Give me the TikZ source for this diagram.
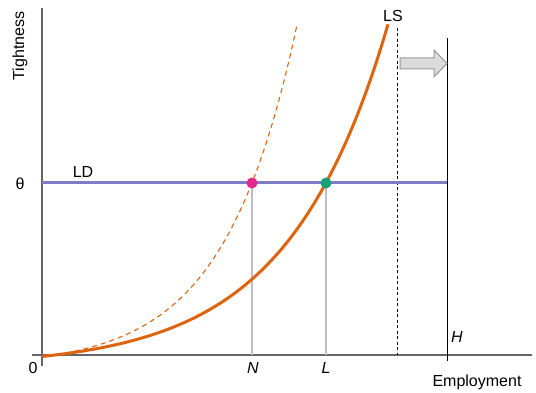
\documentclass[tikz,border=0pt]{standalone}
\usepackage{fontspec}
\setmainfont{Liberation Sans}
\begin{document}
\begin{tikzpicture}[x=1pt,y=-1pt,
  lbl/.style={inner sep=0pt,font=\fontsize{16}{19}\selectfont},
  axisline/.style={draw=black!60,line width=2pt},
  guide/.style={draw=black!25,line width=1.4pt},
  lscurve/.style={draw=lsorange,line width=3pt},
  dot/.style={circle,inner sep=0pt,minimum size=11pt}]
\definecolor{lsorange}{RGB}{222,100,15}
\definecolor{ldblue}{RGB}{128,124,196}
\definecolor{dotpink}{RGB}{228,40,140}
\definecolor{dotgreen}{RGB}{25,160,120}
\useasboundingbox (0,0) rectangle (536,393);
% axes
\coordinate (ytop) at (42,8);
\coordinate (ybot) at (42,366);
\coordinate (xl) at (32,355);
\coordinate (xr) at (532,355);
\draw[axisline] (ytop) -- (ybot);
\draw[axisline] (xl) -- (xr);
% guides
\coordinate (Nax) at (252,355);
\coordinate (Lax) at (326,355);
\node[dot] (Ndot) at (252,183) {};
\node[dot] (Ldot) at (326,183) {};
\draw[guide] (Ndot.center) -- (Nax);
\draw[guide] (Ldot.center) -- (Lax);
% dashed vertical and H
\coordinate (dtop) at (397,28);
\coordinate (dbot) at (397,355);
\draw[black,line width=1pt,dash pattern=on 3pt off 2.5pt] (dtop) -- (dbot);
\coordinate (htop) at (447,38);
\coordinate (hbot) at (447,361);
\draw[black,line width=1pt] (htop) -- (hbot);
% LD
\coordinate (ldl) at (42,183);
\coordinate (ldr) at (447,183);
\draw[ldblue,line width=3pt] (ldl) -- (ldr);
% curves
\draw[lsorange,line width=1.1pt,dash pattern=on 5pt off 4pt] plot[domain=15:333,samples=120,variable=\u] ({55+0.727*\u},{355-12.3*(exp(0.01*\u)-1)});
\draw[lscurve] plot[domain=-13:333,samples=150,variable=\u] ({55+\u},{355-12.3*(exp(0.01*\u)-1)});
\node[dot,fill=dotpink] at (Ndot) {};
\node[dot,fill=dotgreen] at (Ldot) {};
% shift arrow
\draw[fill=black!14,draw=black!40,line width=1pt] (400,58) -- (434,58) -- (434,50) -- (447,63.5) -- (434,77) -- (434,69) -- (400,69) -- cycle;
% labels
\node[lbl,rotate=90] (tight) at (20,46) {Tightness};
\node[lbl] (theta) at (20,184) {θ};
\node[lbl] (LD) at (83,172) {LD};
\node[lbl] (LS) at (393,16) {LS};
\node[lbl] (zero) at (33,368) {0};
\node[lbl] (N) at (253,368) {\itshape N};
\node[lbl] (L) at (326,368) {\itshape L};
\node[lbl] (H) at (457,337) {\itshape H};
\node[lbl] (emp) at (477,382) {Employment};
\end{tikzpicture}
\end{document}
